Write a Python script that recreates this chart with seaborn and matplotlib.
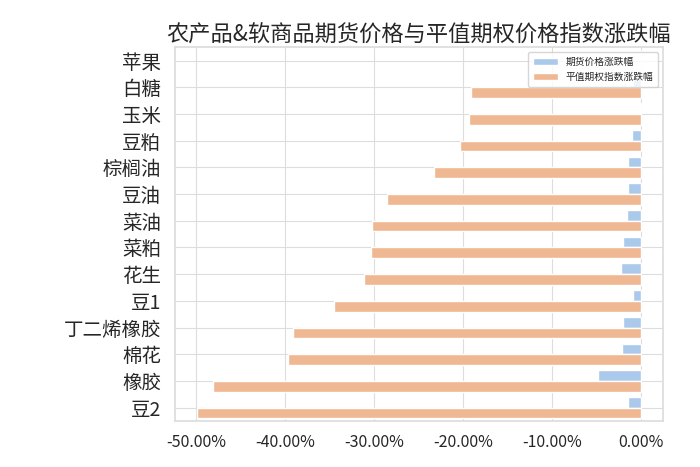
import matplotlib
matplotlib.use("Agg")
import matplotlib.pyplot as plt
from matplotlib.ticker import FuncFormatter
import seaborn as sns
import pandas as pd

categories = ["苹果", "白糖", "玉米", "豆粕", "棕榈油", "豆油", "菜油", "菜粕",
              "花生", "豆1", "丁二烯橡胶", "棉花", "橡胶", "豆2"]
futures_change = [0.0, -0.009, -0.001, -0.010, -0.014, -0.0145, -0.016, -0.020,
                  -0.022, -0.009, -0.0195, -0.021, -0.048, -0.014]
option_index_change = [0.0, -0.191, -0.193, -0.203, -0.233, -0.285, -0.302, -0.303,
                       -0.311, -0.345, -0.391, -0.397, -0.481, -0.499]
series_names = ["期货价格涨跌幅", "平值期权指数涨跌幅"]
title = "农产品&软商品期货价格与平值期权价格指数涨跌幅"

df = pd.DataFrame({
    "品种": categories * 2,
    "涨跌幅": futures_change + option_index_change,
    "类型": [series_names[0]] * len(categories) + [series_names[1]] * len(categories),
})

sns.set_theme(style="whitegrid")
plt.rcParams["font.family"] = ["Noto Sans CJK SC", "DejaVu Sans"]
plt.rcParams["axes.unicode_minus"] = False

fig = plt.figure(figsize=(7, 4.67), dpi=100)
ax = fig.add_axes([0.25, 0.0985, 0.697, 0.8005])
sns.barplot(data=df, y="品种", x="涨跌幅", hue="类型", orient="h",
            palette="pastel", ax=ax, order=categories,
            hue_order=series_names)

lo = min(option_index_change + futures_change)
span = 0 - lo
ax.set_xlim(lo - 0.05 * span, 0.05 * span)
ax.xaxis.set_major_formatter(FuncFormatter(lambda v, p: f"{v*100:.2f}%"))
ax.set_xlabel("")
ax.set_ylabel("")
ax.tick_params(axis="y", labelsize=14, pad=4)
ax.tick_params(axis="x", labelsize=11.5)
ax.grid(True, axis="both", color="#dddddd", linewidth=0.8)
ax.set_title(title, fontsize=16, pad=4)
leg = ax.legend(loc="upper right", fontsize=7, framealpha=0.8,
                handlelength=2.5, borderpad=0.5)
for s in ax.spines.values():
    s.set_color("#dddddd")

fig.savefig("out.png", dpi=100)
